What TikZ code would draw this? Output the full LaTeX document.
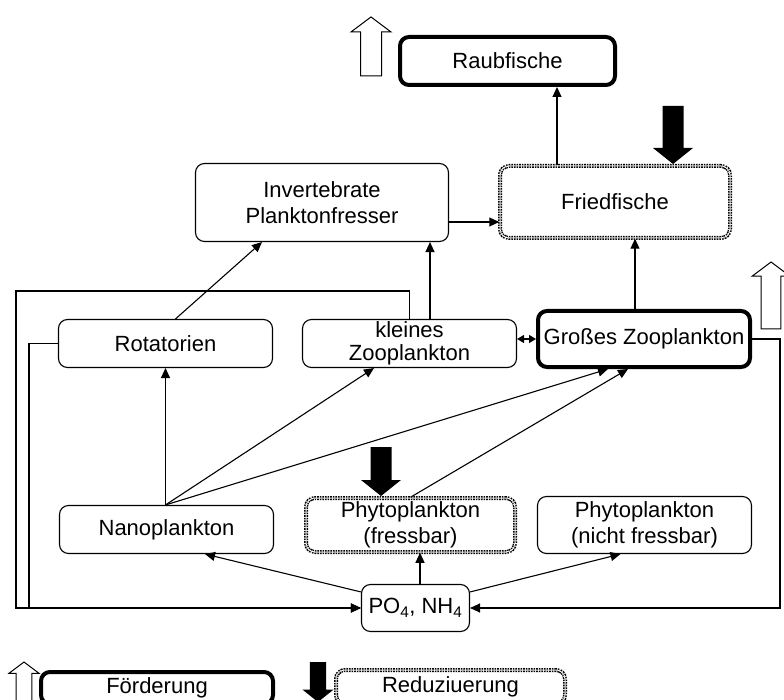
\documentclass[tikz,border=0pt]{standalone}
\usepackage{fontspec}
\setmainfont{Liberation Sans}
\usetikzlibrary{arrows.meta}

\begin{document}
\begin{tikzpicture}[x=1pt, y=-1pt,
    kasten/.style={draw, rounded corners=9pt, line width=1.1pt, fill=white, align=center,
      inner sep=2pt, font=\fontsize{22}{26}\selectfont},
    foerd/.style={kasten, line width=4pt},
    reduz/.style={kasten, line width=1.5pt, double distance=1pt, dash pattern=on 1.6pt off 1pt},
    pfeil/.style={line width=1.1pt, -{Triangle[length=10pt,width=9pt]}},
    doppel/.style={line width=1.1pt, {Triangle[length=7pt,width=8pt]}-{Triangle[length=7pt,width=8pt]}},
    hohlpfeil/.style={draw, fill=white, line width=1pt},
    vollpfeil/.style={fill=black}]
    % Page 784 x 700, y runs downwards
    \useasboundingbox[fill=white] (0,0) rectangle (784,700);
    \clip (0,0) rectangle (784,700);

    % Fische
    \node[foerd, minimum width=215, minimum height=48] (raub) at (507.5,61) {Raubfische};
    \node[reduz, minimum width=230, minimum height=72] (fried) at (615,202) {Friedfische};
    \node[kasten, minimum width=253, minimum height=78] (invert) at (322,202.5)
      {Invertebrate\\Planktonfresser};

    % Zooplankton
    \node[kasten, minimum width=214, minimum height=48] (rot) at (165.5,343.5) {Rotatorien};
    \node[kasten, minimum width=214, minimum height=48] (klein) at (409.5,343.5)
      {kleines\\[-3pt]Zooplankton};
    \node[foerd, minimum width=212, minimum height=56] (gross) at (644,339) {Großes Zooplankton};

    % Phytoplankton und Naehrstoffe
    \node[kasten, minimum width=214, minimum height=48] (nano) at (166.5,529.5) {Nanoplankton};
    \node[reduz, minimum width=209, minimum height=54] (phyf) at (410.5,525)
      {Phytoplankton\\(fressbar)};
    \node[kasten, minimum width=214, minimum height=57] (phyn) at (644.5,525)
      {Phytoplankton\\(nicht fressbar)};
    \node[kasten, minimum width=108, minimum height=47] (po) at (415.5,608)
      {PO\textsubscript{4}, NH\textsubscript{4}};

    % Legende
    \node[foerd, minimum width=232, minimum height=32] (legfoerd) at (157,688) {Förderung};
    \node[reduz, minimum width=229, minimum height=34] (legreduz) at (450.5,687) {Reduziuerung};

    % Fressbeziehungen
    \draw[pfeil] ([xshift=-58pt]fried.north) -- ([xshift=-58pt]fried.north |- raub.south);
    \draw[pfeil] ([yshift=-19.5pt]invert.east) -- ([yshift=-19.5pt]invert.east -| fried.west);
    \draw[pfeil] ([xshift=20.5pt]klein.north) -- ([xshift=20.5pt]klein.north |- invert.south);
    \draw[pfeil] ([xshift=10pt]rot.north) -- ([xshift=-60pt]invert.south);
    \draw[pfeil] ([xshift=-9pt]gross.north) -- ([xshift=-9pt]gross.north |- fried.south);
    \draw[doppel] (gross.west -| klein.east) -- (gross.west);

    \coordinate (nanotop) at (nano.north -| rot.south);
    \draw[pfeil] (nanotop) -- (rot.south);
    \draw[pfeil] (nanotop) -- ([xshift=-35.5pt]klein.south);
    \draw[pfeil] (nanotop) -- ([xshift=-36pt]gross.south);
    \draw[pfeil] (phyf.north) -- ([xshift=-16pt]gross.south);

    \draw[pfeil] ([yshift=-8pt]po.north west) -- ([xshift=38.5pt]nano.south);
    \draw[pfeil] ([xshift=4.5pt]po.north) -- ([xshift=4.5pt]po.north |- phyf.south);
    \draw[pfeil] ([yshift=-8pt]po.north east) -- ([xshift=-24pt]phyn.south);

    % Rueckfuehrung zu den Naehrstoffen
    \coordinate (aussen) at (16,291);
    \coordinate (innen) at (29,608);
    \coordinate (rechts) at (780,339);
    \draw[pfeil] (klein.north) |- (aussen) |- (po.west);
    \draw[pfeil] (rot.west) -| (innen) -- (po.west);
    \draw[pfeil] (gross.east) -- (rechts) |- (po.east);

    % Hohle Pfeile (Foerderung)
    \foreach \x/\y/\l/\s in {371/17/59/1, 771/262/67/0.95, 24/662/60/0.75} {
      \draw[hohlpfeil] (\x,\y) -- ++({20*\s},{15*\s}) -- ++({-9.5*\s},0) -- ++(0,{\l-15*\s})
        -- ++({-21*\s},0) -- ++(0,{15*\s-\l}) -- ++({-9.5*\s},0) -- cycle;
    }

    % Volle Pfeile (Reduzierung)
    \foreach \x/\y/\l/\s in {673/164/58/1, 381/496/49/1, 318/702/40/0.78} {
      \fill[vollpfeil] (\x,\y) -- ++({20*\s},{-16*\s}) -- ++({-9.5*\s},0) -- ++(0,{16*\s-\l})
        -- ++({-21*\s},0) -- ++(0,{\l-16*\s}) -- ++({-9.5*\s},0) -- cycle;
    }
\end{tikzpicture}
\end{document}
